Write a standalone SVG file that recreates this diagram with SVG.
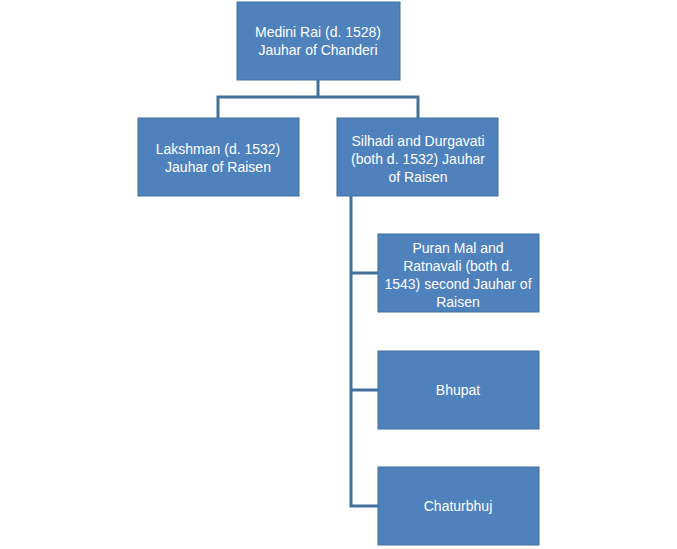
<svg xmlns="http://www.w3.org/2000/svg" width="677" height="549" viewBox="0 0 677 549">
<style>
.b{fill:#4f81bd;stroke:#41719c;stroke-width:1}
.t{fill:#fff;font-family:"Liberation Sans",Arial,sans-serif;font-size:14px;text-anchor:middle}
.c{stroke:#41719c;stroke-width:3;fill:none}
</style>
<rect width="677" height="549" fill="#fff"/>
<g id="connectors">
<path class="c" d="M318 80V97M218 118V97H418V118"/>
<path class="c" d="M351 196V506H378M351 273H378M351 390H378"/>
</g>
<g id="medini"><rect class="b" x="237" y="2" width="163" height="78"/><text class="t" x="318" y="37">Medini Rai (d. 1528)</text><text class="t" x="318" y="55">Jauhar of Chanderi</text></g>
<g id="lakshman"><rect class="b" x="138" y="118" width="161" height="78"/><text class="t" x="218" y="154">Lakshman (d. 1532)</text><text class="t" x="218" y="172">Jauhar of Raisen</text></g>
<g id="silhadi"><rect class="b" x="337" y="118" width="161" height="78"/><text class="t" x="418" y="146">Silhadi and Durgavati</text><text class="t" x="418" y="164">(both d. 1532) Jauhar</text><text class="t" x="418" y="182">of Raisen</text></g>
<g id="puran"><rect class="b" x="378" y="234" width="161" height="78"/><text class="t" x="458" y="253">Puran Mal and</text><text class="t" x="458" y="271">Ratnavali (both d.</text><text class="t" x="458" y="289">1543) second Jauhar of</text><text class="t" x="458" y="307">Raisen</text></g>
<g id="bhupat"><rect class="b" x="378" y="351" width="161" height="78"/><text class="t" x="458" y="395">Bhupat</text></g>
<g id="chaturbhuj"><rect class="b" x="378" y="467" width="161" height="78"/><text class="t" x="458" y="511">Chaturbhuj</text></g>
</svg>
